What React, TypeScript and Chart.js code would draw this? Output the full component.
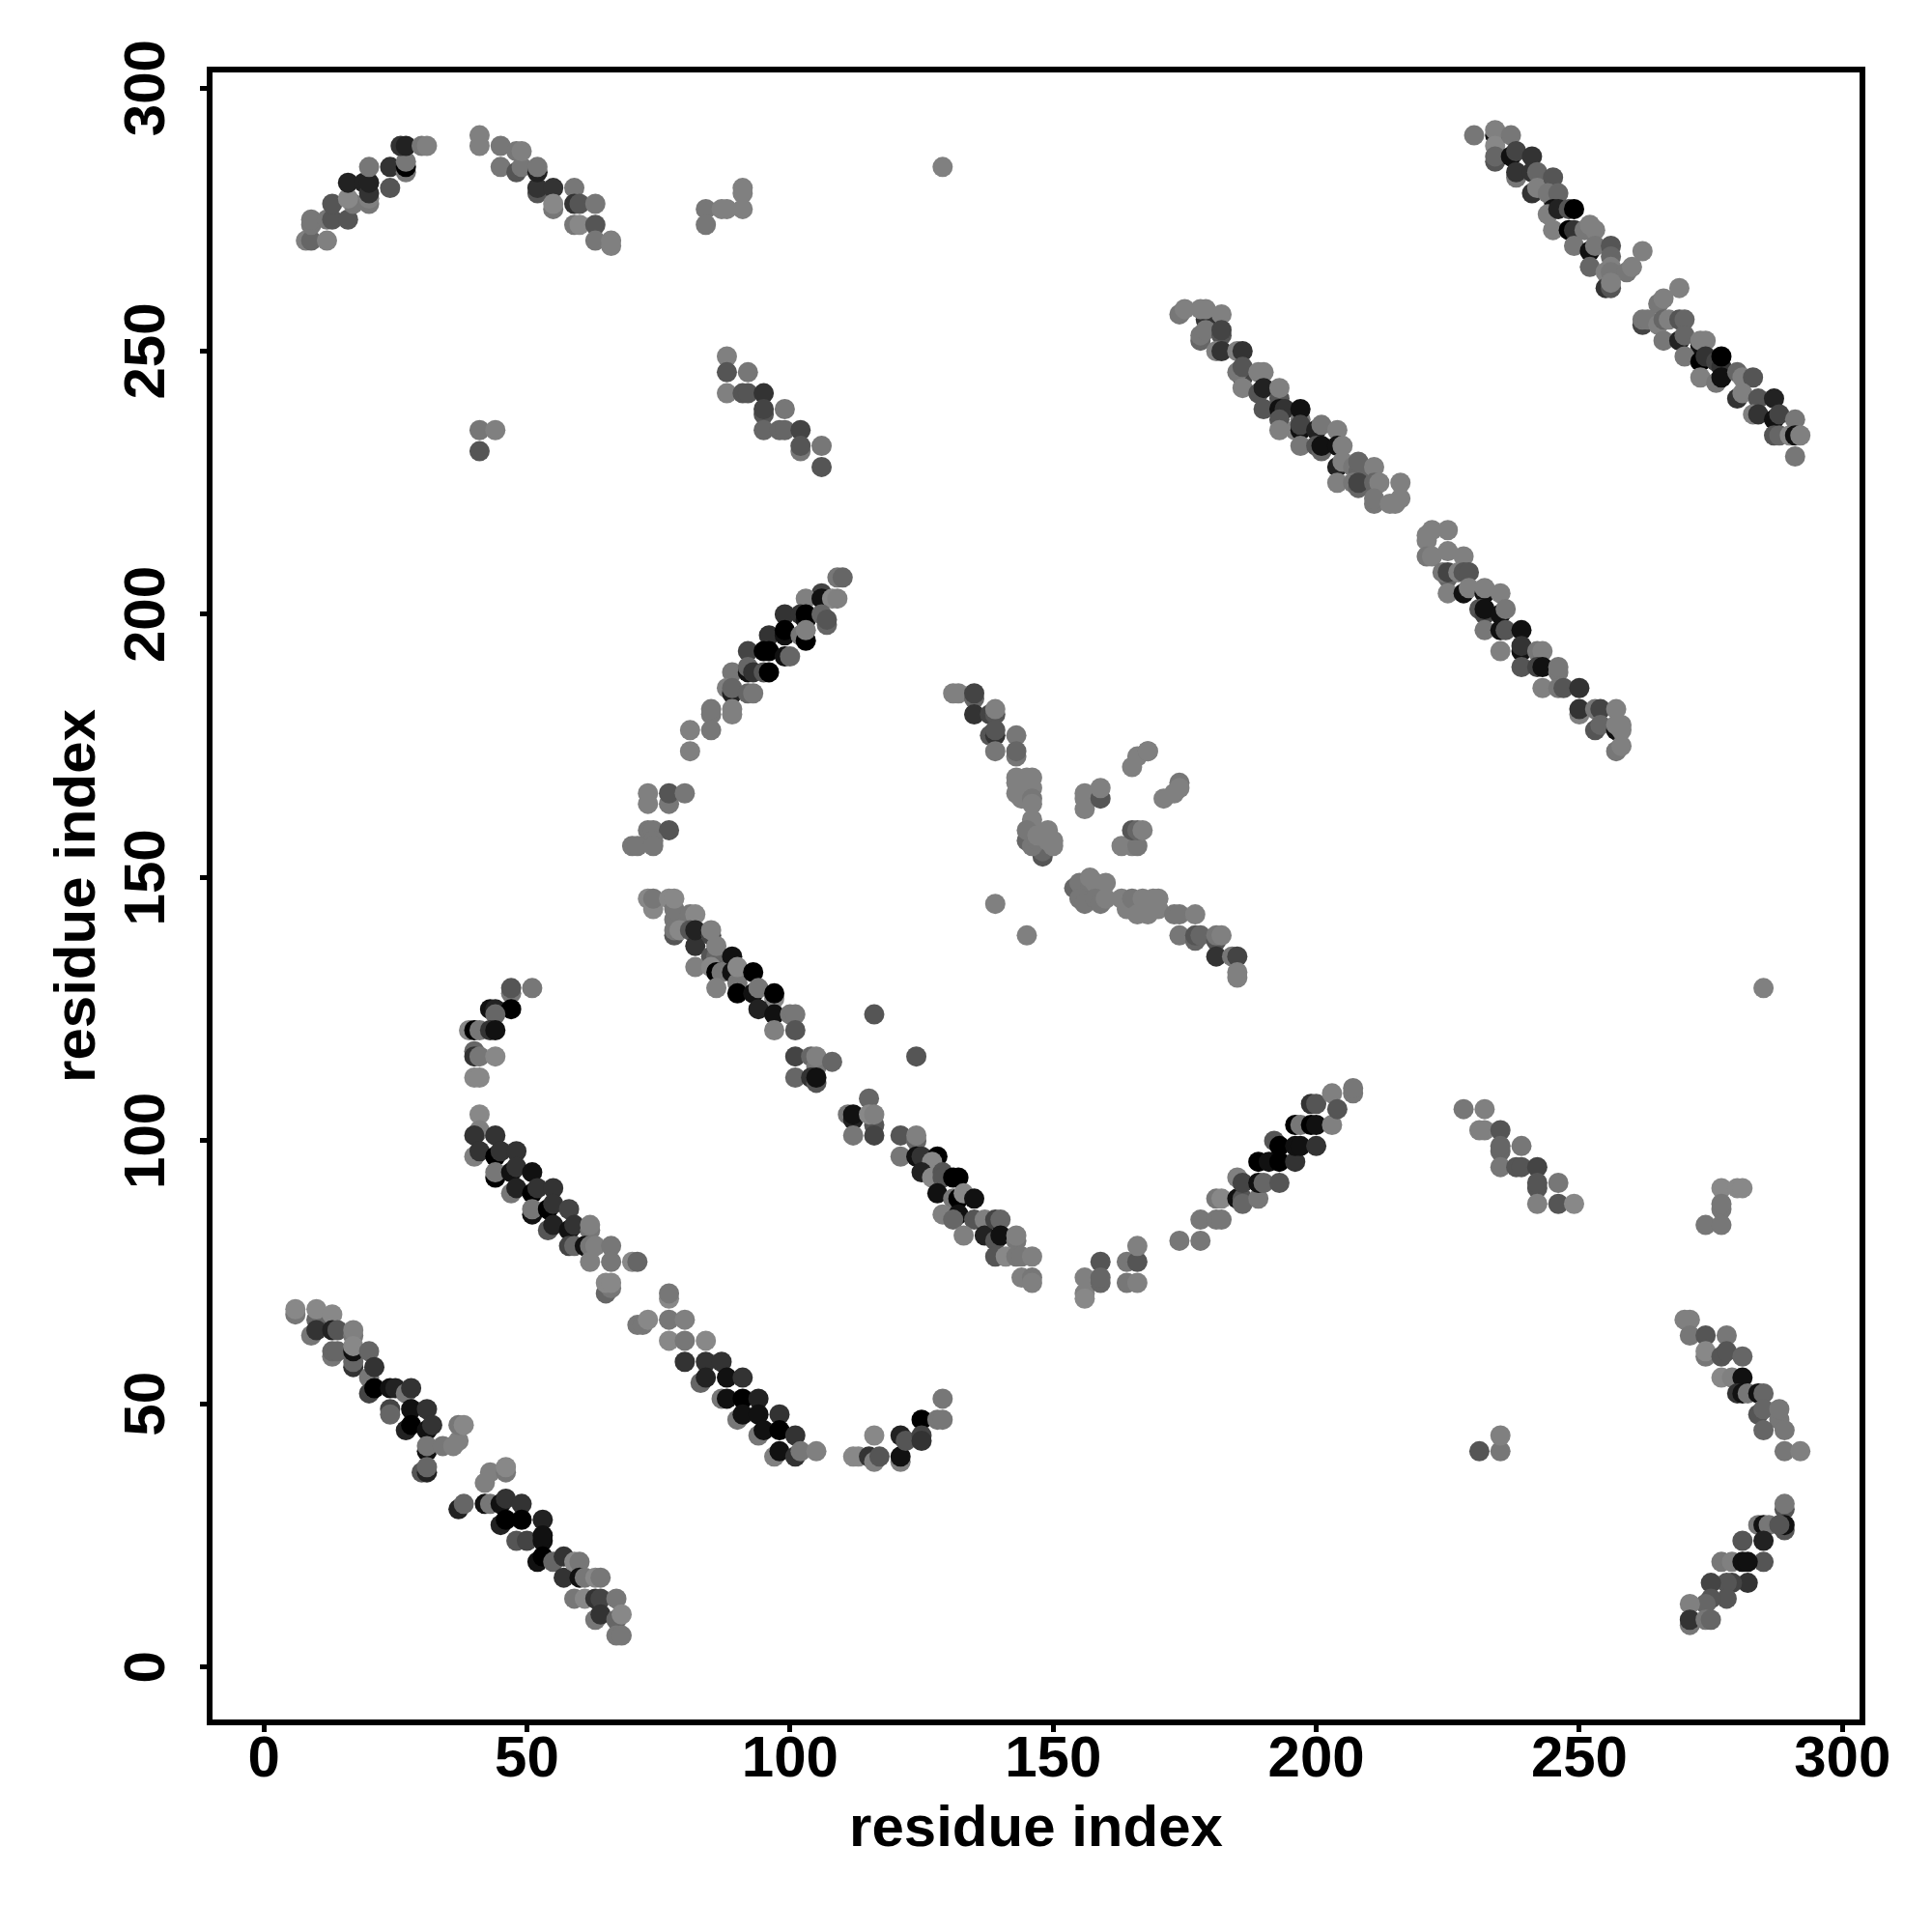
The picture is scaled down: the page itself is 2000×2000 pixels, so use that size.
import React, { useEffect, useRef } from "react";
import { Chart, registerables } from "chart.js";

Chart.register(...registerables);

type P = [number, number, number];

const xTickValues = [0, 50, 100, 150, 200, 250, 300];
const yTickValues = [0, 50, 100, 150, 200, 250, 300];

const bandLowerLeft: P[] = [
  [6,67,119],[6,68,136],[10,66,102],[10,68,136],[13,67,136],[9,63,119],[10,64,51],[13,64,34],[14,64,85],[17,63,119],[17,64,128],
  [13,59,119],[13,60,102],[14,60,102],[17,57,51],[17,58,102],[17,60,17],[17,61,136],[20,60,102],[20,55,119],[21,57,51],
  [20,52,68],[21,53,0],[24,49,68],[24,48,102],[24,53,17],[25,53,34],[27,52,119],[28,53,51],[28,49,17],[31,49,51],
  [27,45,34],[28,46,0],[31,45,17],[32,46,51],[31,41,17],[31,42,119],[34,42,119],[36,42,128],[37,43,128],[37,46,119],[38,46,136],
  [30,37,85],[31,37,34],[31,38,102],
  [42,35,128],[43,37,128],[46,37,119],[46,38,136],[37,30,34],[38,31,102],
  [42,31,17],[43,31,119],[45,31,17],[46,32,51],[49,31,51],
  [45,27,34],[46,28,0],[49,28,0],[53,28,34],[48,24,85],[50,24,68],[53,24,17],[53,25,17],
  [52,20,17],[53,21,0],[55,20,102],[57,21,51],[57,17,51],[59,20,136],[60,20,119],[60,17,17],[61,17,119],[63,17,136],[64,17,119],
  [59,13,119],[61,13,136],[63,13,51],[64,13,68],[67,13,119],[63,9,119],[64,10,51],[67,9,102],[68,10,136],[67,6,119],[68,6,119],
];

const bandMiddleLeft: P[] = [
  [47,128,119],[47,129,85],[51,129,119],[43,125,17],[44,125,34],[47,125,0],[44,124,102],
  [39,121,136],[40,121,0],[41,121,119],[43,121,51],[44,121,17],
  [40,117,102],[40,116,51],[41,116,119],[44,116,136],[40,112,136],[41,112,136],
  [41,105,136],[41,102,128],[40,101,51],[44,101,51],[40,97,128],[41,98,51],[44,97,0],[45,98,51],[48,98,51],
  [44,93,0],[44,94,119],[47,94,17],[48,95,51],[51,94,17],[47,90,119],[48,91,34],[51,90,0],[52,91,51],[55,91,51],
  [51,86,17],[51,87,119],[54,87,0],[55,88,51],[58,87,68],[54,83,85],[55,84,34],[58,83,17],[59,84,51],[62,83,119],[62,84,128],
  [58,80,68],[59,80,102],[61,80,17],[62,80,119],[63,80,128],[66,80,119],[62,77,128],[66,77,119],[70,77,136],[71,77,102],
  [65,71,102],[66,72,119],[65,73,136],[66,73,136],[77,70,136],[77,71,119],[71,65,119],[72,65,119],[73,66,136],
];

const bandMiddleLower: P[] = [
  [77,66,119],[80,66,128],[77,62,136],[80,62,119],[84,62,136],[80,58,51],[84,58,51],[87,58,51],[83,54,102],[84,55,34],[88,55,17],[91,55,51],
  [87,51,119],[88,51,17],[91,51,0],[94,51,34],[90,47,119],[91,48,17],[94,48,17],[98,48,51],[94,44,119],[95,45,17],[98,45,0],[101,44,51],
  [97,40,128],[98,41,17],[101,40,51],[102,41,119],[105,41,128],
  [112,40,136],[113,40,136],[116,44,136],[115,40,51],[116,39,128],[117,40,85],[121,39,128],[121,40,17],[121,44,34],[122,43,85],
  [125,47,0],[125,44,68],[125,43,51],[129,51,119],[128,47,119],[129,47,119],
];

const bandCenterLeft: P[] = [
  [73,146,136],[74,144,136],[74,146,119],[77,146,136],[78,142,119],[78,144,119],[78,146,136],[81,143,119],[82,143,136],
  [78,139,85],[78,140,119],[79,140,136],[81,140,85],[82,137,51],[82,140,34],[85,135,85],[85,139,68],[85,140,128],[86,135,102],[86,137,128],[89,135,17],
  [82,133,128],[85,133,136],[86,132,0],[87,132,119],[89,132,17],[90,130,119],[90,133,136],[93,132,0],[86,129,128],
  [90,128,0],[93,128,17],[94,129,119],[97,127,136],[97,128,0],[94,125,34],[97,124,17],[100,124,119],[101,124,119],[97,121,128],[101,121,85],
  [101,116,68],[104,116,102],[105,114,119],[105,116,128],[108,115,102],[101,112,102],[104,112,51],[105,111,85],[105,112,17],
  [116,124,85],[124,116,85],[139,145,128],[145,139,128],
  [115,108,102],[111,105,119],[112,104,34],[112,105,17],[116,103,85],[115,105,136],[116,105,128],[112,101,119],[116,101,68],
  [121,101,85],[124,100,102],[124,101,128],[121,97,119],[124,97,17],[125,97,51],[128,97,0],[127,96,136],
  [125,94,34],[127,93,136],[129,94,85],[129,93,85],[128,90,17],[131,93,0],[132,93,0],[131,89,119],[132,89,0],[133,90,136],[135,89,17],
  [129,86,128],[132,86,17],[131,85,102],[135,85,85],[137,85,128],[133,82,128],[137,82,34],[139,85,68],[140,85,102],[139,81,85],[140,82,17],
  [143,81,119],[143,82,128],[139,78,85],[141,78,136],[143,78,119],[144,78,119],[146,78,128],[144,74,128],[146,74,119],[146,73,128],
];

const bandRising: P[] = [
  [156,74,128],[156,71,128],[156,70,136],[159,77,85],[159,73,102],[159,74,102],[164,77,119],[164,73,119],[166,73,128],[166,77,85],[166,80,128],
  [174,81,119],[178,81,119],[178,85,119],[181,85,119],[182,85,119],[181,89,119],[182,89,136],
  [185,89,17],[186,89,85],[186,88,102],[189,89,119],[185,93,128],[186,92,68],[189,92,17],[190,92,102],[193,92,85],
  [189,96,0],[191,96,17],[193,96,0],[196,96,51],[192,100,85],[193,99,0],[196,99,17],[197,99,17],[200,99,51],
  [196,103,0],[197,103,119],[199,103,0],[200,103,17],[203,103,128],[199,107,51],[200,107,85],[203,109,128],[204,106,85],[207,109,119],[207,110,119],
];

const groupRightMiddle: P[] = [
  [228,106,119],[232,106,128],[231,102,128],[232,102,128],[235,102,85],[235,98,102],[235,99,102],[239,99,119],[235,95,119],[238,95,85],[239,95,85],
  [242,95,68],[242,91,85],[242,92,85],[246,92,119],[242,88,128],[246,88,85],[249,88,136],
  [277,91,136],[280,91,136],[281,91,136],[277,87,119],[277,88,119],[274,84,119],[277,84,119],
];

const groupLowerRight: P[] = [
  [270,66,128],[271,66,128],[271,63,119],[274,63,85],[278,63,119],[274,59,119],[274,60,136],[277,59,85],[278,60,85],[281,59,102],
  [277,55,136],[279,55,128],[281,55,17],[280,52,51],[281,52,17],[282,52,119],[284,52,17],[285,52,102],[284,48,85],[285,49,102],[288,47,119],[288,49,119],
  [285,45,102],[289,45,119],[289,41,119],[292,41,128],[231,41,85],[235,41,119],[235,44,128],[285,129,128],
  [289,30,85],[289,31,119],[289,26,85],[289,27,17],[284,27,119],[285,27,17],[286,27,119],[288,27,85],[285,24,34],[281,24,85],
  [285,20,85],[277,20,119],[279,20,128],[281,20,17],[282,20,17],[282,16,51],[279,16,68],[278,16,85],[275,16,68],[278,13,85],[275,13,85],
  [274,12,102],[271,12,128],[271,8,119],[271,9,51],[274,9,119],[275,9,102],
];

const groupUpperLeft: P[] = [
  [8,271,128],[9,271,102],[12,271,128],[9,274,119],[9,275,119],[12,275,119],[13,275,85],[16,275,85],[13,278,85],[17,278,119],[16,279,136],
  [20,278,119],[20,279,128],[16,282,34],[19,282,34],[20,280,51],[20,282,34],[20,285,119],[24,281,85],[24,285,51],
  [27,284,119],[27,285,0],[27,286,119],[26,289,51],[27,289,34],[30,289,119],[31,289,128],
  [41,291,128],[41,289,128],[45,285,119],[45,289,119],[48,284,85],[48,288,119],[49,285,119],[49,288,128],
  [52,280,85],[52,281,51],[52,284,34],[52,285,119],[55,281,51],[55,277,119],[55,278,136],[59,281,119],[59,278,51],[60,278,85],[63,278,119],
  [59,274,119],[60,274,136],[63,274,85],[63,271,119],[66,270,128],[66,271,128],
  [84,277,119],[84,274,119],[87,277,128],[88,277,128],[91,277,128],[91,280,128],[91,281,128],[129,285,128],
  [41,235,119],[44,235,128],[41,231,85],
  [88,249,128],[88,246,85],[92,246,119],[88,242,128],[91,242,85],[92,242,85],[95,242,51],[95,238,85],[95,239,68],[99,239,119],
  [95,235,102],[98,235,102],[99,235,102],[102,235,68],[102,231,119],[102,232,85],[106,232,119],[106,228,85],
];

const bandRisingUpper: P[] = [
  [109,207,119],[110,207,102],[106,204,68],[103,203,128],[106,203,17],[108,203,136],[109,203,128],
  [99,200,51],[102,200,51],[103,199,17],[103,200,0],[106,200,102],[107,198,102],[107,199,85],
  [96,196,51],[99,196,17],[99,197,0],[102,196,119],[103,195,0],[103,197,128],
  [92,193,68],[95,193,0],[96,193,0],[99,192,17],[100,192,102],
  [89,189,119],[92,189,17],[92,190,102],[93,189,51],[95,189,85],[96,189,0],
  [88,186,128],[89,185,34],[89,186,102],[92,185,102],[93,185,119],
  [85,181,119],[85,182,119],[89,181,128],[89,182,128],[81,178,128],[85,178,119],[81,174,128],
  [73,164,128],[73,166,128],[77,164,119],[77,166,85],[80,166,119],
  [73,159,119],[74,159,119],[77,159,85],[70,156,119],[71,156,119],[74,157,119],[74,156,119],
];

const clusterCenter: P[] = [
  [131,185,128],[132,185,128],[135,184,102],[135,185,68],[135,181,51],[138,181,68],[139,181,85],[139,182,128],
  [138,177,85],[139,177,51],[139,178,85],[143,177,119],[139,174,119],[143,173,119],[143,174,102],
  [143,169,128],[145,169,128],[146,169,128],[143,168,128],[143,166,128],[145,167,128],[146,167,128],[144,165,128],[146,165,119],[146,164,128],
  [146,161,128],[148,154,85],[148,155,102],[145,157,102],[146,156,119],[145,159,119],[147,157,119],[147,158,128],[149,157,128],[149,159,128],[150,156,128],[150,157,128],
  [154,148,102],[155,149,119],[157,148,119],[157,150,128],[158,149,128],[160,149,128],[155,146,119],[156,145,119],[158,146,119],[159,145,119],[160,146,128],
  [163,146,128],[164,144,128],[165,146,119],[166,143,128],[167,146,128],[168,143,128],[169,144,128],[169,146,128],[170,144,128],[170,146,128],
  [173,143,119],[174,143,119],[177,143,128],[174,139,119],[177,138,102],[177,139,85],[178,139,102],[181,138,85],[181,139,119],[182,139,128],
  [181,135,51],[184,135,119],[185,135,68],[185,131,128],[185,132,128],
  [165,171,128],[166,173,128],[168,174,119],[168,174,128],[171,165,128],[173,166,128],[174,168,119],[174,167,128],
  [156,166,128],[156,165,128],[156,163,128],[159,165,85],[159,167,128],
  [163,156,128],[165,156,128],[166,156,119],[165,159,85],[166,159,102],[167,159,128],
];

const bandUpperRight: P[] = [
  [230,291,119],[234,291,17],[234,292,128],[234,289,136],[234,286,85],[234,287,102],[237,291,119],
  [237,287,17],[238,288,68],[241,287,51],[238,283,119],[238,284,51],[241,284,51],[242,284,102],[241,280,51],[242,281,128],[245,283,85],
  [245,279,17],[244,280,119],[246,280,102],[245,277,17],[244,276,128],[246,277,34],[248,277,85],[249,277,0],
  [245,273,128],[248,273,0],[249,273,51],[251,273,119],[252,274,128],[253,273,128],[249,270,119],[252,269,17],[253,270,119],[256,270,85],
  [252,266,102],[256,268,102],[256,266,128],[255,265,128],[256,265,119],[259,265,119],[260,266,128],[255,262,51],[256,262,85],[256,263,128],[262,269,128],
  [269,262,128],[265,259,119],[266,260,128],[262,255,68],[262,256,119],[263,256,119],[265,255,128],[266,256,102],[267,256,128],[269,256,85],[270,256,102],
  [266,252,119],[269,252,34],[270,253,102],[273,251,17],[273,252,128],[274,252,128],[270,249,119],[273,248,0],[274,249,51],[276,248,68],[277,247,51],[277,249,0],
  [273,245,128],[276,244,119],[277,245,17],[280,246,102],[281,245,128],[283,245,85],[280,241,51],[281,242,128],[284,241,85],[283,238,128],[284,238,51],
  [287,241,34],[287,237,17],[288,238,68],[287,234,85],[288,234,102],[290,234,136],[291,237,119],[291,234,17],[292,234,128],[291,230,119],
];

const bandUpperMiddle: P[] = [
  [174,257,119],[175,258,128],[179,256,51],[178,258,128],[179,258,128],[182,257,128],
  [178,252,102],[178,253,119],[179,254,119],[182,253,85],[182,254,68],[181,250,128],[182,250,51],[185,250,128],[186,250,51],
  [186,245,68],[185,246,119],[186,247,85],[189,246,128],[190,246,128],[186,243,128],[189,242,85],[190,243,34],[193,241,85],[193,243,128],
  [190,239,85],[193,239,17],[194,239,51],[193,237,85],[197,237,119],[197,239,17],[193,235,128],[196,235,128],[197,235,17],[197,236,68],[200,235,34],[201,236,119],[204,235,128],
  [197,232,119],[200,232,85],[201,231,102],[201,232,17],[204,232,17],[205,232,128],[204,228,34],[205,229,128],[207,228,119],[208,227,102],[208,229,102],[211,228,128],
  [204,225,128],[207,225,119],[208,224,102],[208,225,68],[211,225,102],[212,225,128],[216,225,128],[211,221,119],[211,222,119],[214,221,128],[215,221,128],[216,222,128],
];

const bandUpperLower: P[] = [
  [222,216,128],[225,216,128],[221,214,128],[221,215,128],[221,211,119],[222,211,128],[225,212,128],[228,211,128],
  [225,207,102],[224,208,119],[225,208,68],[227,208,128],[228,208,85],[229,208,85],[225,204,128],[228,204,17],[229,205,128],
  [232,204,17],[232,205,128],[235,204,128],[231,201,85],[232,200,68],[232,201,17],[235,200,17],[236,201,119],
  [232,197,119],[235,197,17],[236,197,85],[239,197,17],[235,193,128],[239,193,17],[239,194,51],[242,193,119],[243,193,128],
  [239,190,85],[242,190,68],[243,190,17],[246,189,119],[246,190,119],[243,186,128],[246,186,119],[247,186,85],[250,186,51],
  [250,181,128],[250,182,51],[253,182,119],[254,182,68],[257,182,128],[253,178,85],[254,179,102],[257,178,17],[257,179,128],[258,178,128],[258,179,128],[257,174,119],[258,175,128],
];

const allPoints: P[] = [
  ...bandLowerLeft, ...bandMiddleLeft, ...bandMiddleLower, ...bandCenterLeft, ...bandRising,
  ...groupRightMiddle, ...groupLowerRight, ...groupUpperLeft, ...bandRisingUpper, ...clusterCenter,
  ...bandUpperRight, ...bandUpperMiddle, ...bandUpperLower,
];

const frame = {
  id: "frame",
  afterDatasetsDraw(chart: any) {
    const { ctx, chartArea: a } = chart;
    ctx.save();
    ctx.strokeStyle = "#000";
    ctx.lineWidth = 6;
    ctx.strokeRect(a.left, a.top, a.right - a.left, a.bottom - a.top);
    ctx.restore();
  },
};

export default function App() {
  const ref = useRef<HTMLCanvasElement>(null);
  useEffect(() => {
    const font = { family: "'Liberation Sans', Arial, sans-serif", size: 60, weight: "bold" as const, lineHeight: 1.2 };
    const chart = new Chart(ref.current!, {
      type: "scatter",
      data: {
        datasets: [
          {
            data: allPoints.map(([x, y]) => ({ x, y })),
            backgroundColor: allPoints.map(([, , g]) => `rgb(${g},${g},${g})`),
            pointRadius: 10.5,
            pointBorderWidth: 0,
            pointHoverRadius: 10.5,
          },
        ],
      },
      options: {
        animation: false,
        responsive: false,
        devicePixelRatio: 1,
        layout: { padding: { left: 0, top: 72, right: 72, bottom: 0 } },
        plugins: { legend: { display: false }, tooltip: { enabled: false } },
        scales: {
          x: {
            type: "linear",
            min: -10.3,
            max: 303.8,
            afterBuildTicks: (s: any) => { s.ticks = xTickValues.map((value) => ({ value })); },
            afterFit: (s: any) => { s.height = 217; },
            border: { display: false },
            grid: { drawOnChartArea: false, drawTicks: true, tickLength: 10, tickWidth: 5, tickColor: "#000" },
            ticks: { color: "#000", font, padding: -7, maxRotation: 0, minRotation: 0, autoSkip: false },
            title: { display: true, text: "residue index", color: "#000", font, padding: { top: 0, bottom: 70 } },
          },
          y: {
            type: "linear",
            min: -10.5,
            max: 303.5,
            afterBuildTicks: (s: any) => { s.ticks = yTickValues.map((value) => ({ value })); },
            afterFit: (s: any) => { s.width = 217; },
            border: { display: false },
            grid: { drawOnChartArea: false, drawTicks: true, tickLength: 10, tickWidth: 5, tickColor: "#000" },
            ticks: { color: "#000", font, padding: 3, minRotation: 90, maxRotation: 90, crossAlign: "center", autoSkip: false },
            title: { display: true, text: "residue index", color: "#000", font, padding: { top: 45, bottom: 45 } },
          },
        },
      },
      plugins: [frame],
    } as any);
    return () => chart.destroy();
  }, []);
  return (
    <div style={{ position: "absolute", left: 0, top: 0, width: 2000, height: 2000, background: "#fff" }}>
      <canvas ref={ref} width={2000} height={2000} style={{ display: "block" }} />
    </div>
  );
}
